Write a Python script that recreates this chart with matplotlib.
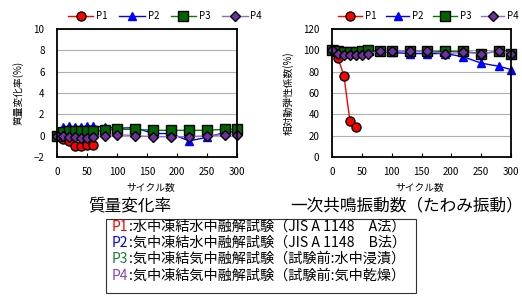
import matplotlib
matplotlib.use("Agg")
import matplotlib.pyplot as plt
from matplotlib.patches import Rectangle

plt.rcParams['font.family'] = ['Noto Sans CJK JP', 'DejaVu Sans']

cycles = [0, 10, 20, 30, 40, 50, 60, 80, 100, 130, 160, 190, 220, 250, 280, 300]

# mass change rate (%)
m_p1 = [0, -0.3, -0.5, -1.0, -1.0, -0.85, -0.85]
m_p2 = [0, 0.8, 0.9, 0.8, 0.8, 0.9, 0.9, 0.8, 0.7, 0.75, 0.2, 0.2, -0.5, -0.15, 0.3, 0.4]
m_p3 = [0, 0.3, 0.4, 0.4, 0.4, 0.4, 0.4, 0.5, 0.6, 0.6, 0.5, 0.5, 0.5, 0.5, 0.6, 0.6]
m_p4 = [0, -0.05, -0.1, -0.1, -0.2, -0.2, -0.1, 0.0, 0.1, 0.0, -0.1, -0.1, -0.1, 0.0, 0.1, 0.1]

# relative dynamic modulus (%)
r_p1 = [100, 93, 76, 34, 28]
r_p2 = [100, 101, 98, 98, 98, 99, 100, 99, 98, 97, 97, 97, 94, 88, 85, 82]
r_p3 = [100, 99, 98, 98, 98, 99, 100, 99, 99, 99, 99, 99, 99, 97, 99, 97]
r_p4 = [100, 97, 96, 96, 96, 96, 97, 99, 99, 99, 99, 97, 98, 97, 99, 97]

names = ['P1', 'P2', 'P3', 'P4']
legend_lines = [
    ':水中凍結水中融解試験（JIS A 1148\u3000A法）',
    ':気中凍結水中融解試験（JIS A 1148\u3000B法）',
    ':気中凍結気中融解試験（試験前:水中浸漬）',
    ':気中凍結気中融解試験（試験前:気中乾燥）',
]
text_colors = ['#ff0000', '#0000ff', '#1a7a3a', '#8844bb']

W, H = 522, 296
fig = plt.figure(figsize=(W / 100, H / 100), dpi=100)

def ax_rect(x0, y0, x1, y1):
    return [x0 / W, 1 - y1 / H, (x1 - x0) / W, (y1 - y0) / H]

styles = [
    dict(color='#ff0000', marker='o', mfc='#ff0000', mec='#000000', ms=6.5),
    dict(color='#0000ff', marker='^', mfc='#0000ff', mec='#0000ff', ms=6),
    dict(color='#008000', marker='s', mfc='#006400', mec='#000000', ms=6.5),
    dict(color='#9966cc', marker='D', mfc='#7030a0', mec='#000000', ms=5),
]

def setup(ax, ylim, yticks, ylabel):
    ax.set_xlim(0, 300)
    ax.set_ylim(*ylim)
    ax.set_xticks(range(0, 301, 50))
    ax.set_yticks(yticks)
    ax.yaxis.grid(True, color='#b0b0b0', lw=0.8)
    ax.set_axisbelow(True)
    for s in ax.spines.values():
        s.set_linewidth(1.3)
    ax.tick_params(axis='x', direction='in', length=3, labelsize=7, pad=7)
    ax.tick_params(axis='y', length=0, labelsize=7, pad=9)
    ax.set_ylabel(ylabel, fontsize=7, labelpad=7)

def draw(ax, d1, d2, d3, d4):
    ax.plot(cycles[:len(d1)], d1, lw=1, label='P1', **styles[0], clip_on=False)
    ax.plot(cycles, d2, lw=1, label='P2', **styles[1], clip_on=False)
    ax.plot(cycles, d3, lw=1, label='P3', **styles[2], clip_on=False)
    ax.plot(cycles, d4, lw=1, label='P4', **styles[3], clip_on=False)

ax1 = fig.add_axes(ax_rect(57, 29, 237, 157))
draw(ax1, m_p1, m_p2, m_p3, m_p4)
setup(ax1, (-2, 10), range(-2, 11, 2), '質量変化率(%)')
ax1.legend(loc='lower center', bbox_to_anchor=(0.6, 1.03), ncol=4, frameon=False,
           fontsize=7, handlelength=2.6, columnspacing=1.2, handletextpad=0.3, borderaxespad=0)

ax2 = fig.add_axes(ax_rect(332, 29, 511, 157))
draw(ax2, r_p1, r_p2, r_p3, r_p4)
setup(ax2, (0, 120), range(0, 121, 20), '相対動弾性係数(%)')
ax2.legend(loc='lower center', bbox_to_anchor=(0.54, 1.03), ncol=4, frameon=False,
           fontsize=7, handlelength=2.4, columnspacing=1.0, handletextpad=0.3, borderaxespad=0)

fig.text(151 / W, 1 - 188 / H, 'サイクル数', fontsize=7, ha='center', va='center')
fig.text(420 / W, 1 - 188 / H, 'サイクル数', fontsize=7, ha='center', va='center')

fig.text(130 / W, 1 - 206 / H, '質量変化率', fontsize=12, ha='center', va='center')
fig.text(407 / W, 1 - 206 / H, '一次共鳴振動数（たわみ振動）', fontsize=12, ha='center', va='center')

fig.patches.append(Rectangle((106 / W, 1 - 293 / H), (416 - 106) / W, (293 - 219) / H,
                             transform=fig.transFigure, fill=False, ec='#333333', lw=0.8))
row_y = [227, 243, 259, 276]
for i in range(4):
    fig.text(112 / W, 1 - row_y[i] / H, names[i], color=text_colors[i], fontsize=10,
             ha='left', va='center')
    fig.text(129 / W, 1 - row_y[i] / H, legend_lines[i], color='black', fontsize=10.2,
             ha='left', va='center')

fig.savefig('out.png', dpi=100)
